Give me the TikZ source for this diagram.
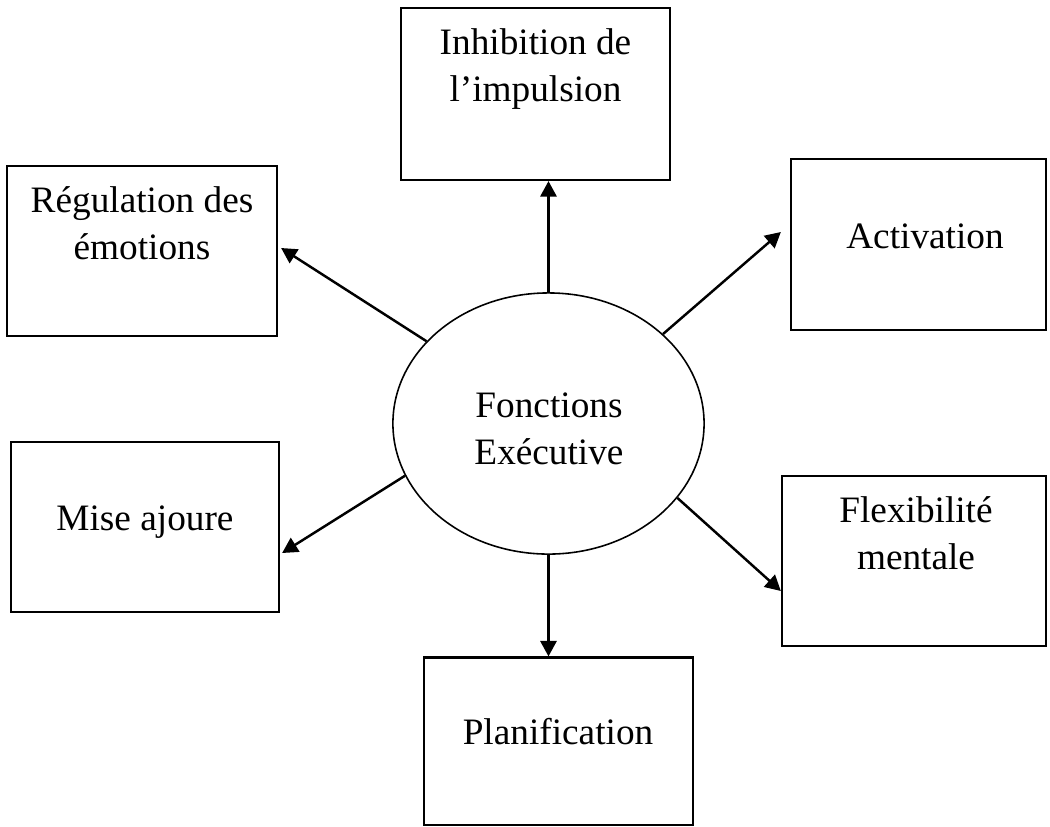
\documentclass[tikz,border=0pt]{standalone}
\usepackage{fontspec}
\setmainfont{Liberation Serif}
\usetikzlibrary{shapes.geometric,arrows.meta,calc}
\begin{document}
\begin{tikzpicture}[x=0.01cm,y=-0.01cm,
  box/.style={draw, line width=0.6pt, rectangle, inner sep=0pt},
  lbl/.style={inner sep=0pt, align=center, font=\fontsize{10.6}{13.3}\selectfont},
  conn/.style={line width=0.7pt, -{Triangle[length=4.4pt,width=4.6pt]}}]
\useasboundingbox (0,0) rectangle (1050,826);
% boxes
\node[box, minimum width=2.69cm, minimum height=1.72cm] (inh) at (535.5,94) {};
\node[box, minimum width=2.70cm, minimum height=1.70cm] (reg) at (142,251) {};
\node[box, minimum width=2.55cm, minimum height=1.71cm] (act) at (918.5,244.5) {};
\node[box, minimum width=2.68cm, minimum height=1.70cm] (mise) at (145,527) {};
\node[box, minimum width=2.64cm, minimum height=1.70cm] (flex) at (914,561) {};
\node[box, minimum width=2.69cm, minimum height=1.67cm] (pla) at (558.5,741) {};
% centre
\node[draw, ellipse, line width=0.45pt, inner sep=0pt, minimum width=3.11cm, minimum height=2.61cm] (fe) at (548.5,423.5) {};
% texts
\node[lbl] (inh-t) at (535.5,69) {Inhibition de\\l’impulsion};
\node[lbl] (reg-t) at (142,223) {Régulation des\\émotions};
\node[lbl, anchor=base] (act-t) at (925,248) {Activation};
\node[lbl, anchor=base] (mise-t) at (145,530) {Mise ajoure};
\node[lbl] (flex-t) at (916,533) {Flexibilité\\mentale};
\node[lbl, anchor=base] (pla-t) at (558,744) {Planification};
\node[lbl] (fe-t) at (549,429) {Fonctions\\Exécutive};
% connectors
\draw[conn] (fe.north) -- (fe.north |- inh.south);
\draw[conn] (fe.south) -- (fe.south |- pla.north);
\draw[conn] (fe.146) -- ($(reg.east)+(3,-3)$);
\draw[conn] (fe.38) -- ($(act.west)+(-9,-12.5)$);
\draw[conn] (fe.200) -- ($(mise.east)+(2,26)$);
\draw[conn] (fe.330) -- ($(flex.west)+(0,30)$);
\end{tikzpicture}
\end{document}
